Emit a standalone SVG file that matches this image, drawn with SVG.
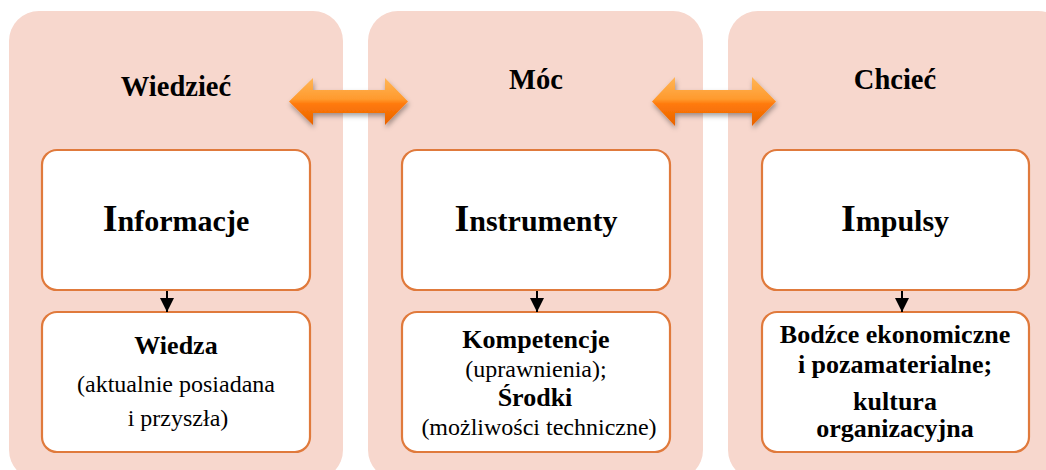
<svg xmlns="http://www.w3.org/2000/svg" width="1046" height="470" viewBox="0 0 1046 470">
<style>
.panel{fill:#F7D7CD;}
.box{fill:#FFFFFF;stroke:#E07A3C;stroke-width:2.2;}
text{font-family:'Times New Roman','Liberation Serif',Tinos,serif;fill:#000;text-anchor:middle;}
.title{font-size:28.5px;font-weight:bold;}
.big{font-size:30px;font-weight:bold;}
.bigI{font-size:38px;}
.lb{font-size:26px;font-weight:bold;}
.lr{font-size:24px;}
.conn{stroke:#000;stroke-width:2;fill:none;}
.dbl{fill:url(#og);filter:url(#sh);}
</style>
<defs>
<linearGradient id="og" x1="0" y1="0" x2="0" y2="1">
<stop offset="0" stop-color="#FFB657"/>
<stop offset="0.45" stop-color="#FF9A2E"/>
<stop offset="0.55" stop-color="#FF7A0A"/>
<stop offset="1" stop-color="#E86200"/>
</linearGradient>
<filter id="sh" x="-20%" y="-40%" width="140%" height="190%">
<feDropShadow dx="1" dy="3" stdDeviation="2.5" flood-color="#000" flood-opacity="0.35"/>
</filter>
<marker id="ah" viewBox="0 0 10 10" refX="10" refY="5" markerWidth="15" markerHeight="14" markerUnits="userSpaceOnUse" orient="auto">
<path d="M0,0 L10,5 L0,10 Z" fill="#000"/>
</marker>
</defs>

<g id="panel-wiedziec">
<rect class="panel" x="9" y="11" width="334" height="469" rx="30"/>
<text class="title" x="176" y="96">Wiedzieć</text>
</g>
<g id="panel-moc">
<rect class="panel" x="368" y="11" width="335" height="469" rx="30"/>
<text class="title" x="536" y="89">Móc</text>
</g>
<g id="panel-chciec">
<rect class="panel" x="728" y="11" width="340" height="469" rx="30"/>
<text class="title" x="895" y="89">Chcieć</text>
</g>

<g id="node-informacje">
<rect class="box" x="42" y="150" width="268" height="140" rx="15"/>
<text class="big" x="176" y="231"><tspan class="bigI">I</tspan>nformacje</text>
</g>
<g id="node-instrumenty">
<rect class="box" x="402" y="150" width="268" height="140" rx="15"/>
<text class="big" x="536" y="231"><tspan class="bigI">I</tspan>nstrumenty</text>
</g>
<g id="node-impulsy">
<rect class="box" x="762" y="150" width="267" height="140" rx="15"/>
<text class="big" x="895" y="231"><tspan class="bigI">I</tspan>mpulsy</text>
</g>

<g id="node-wiedza">
<rect class="box" x="42" y="312" width="268" height="140" rx="15"/>
<text class="lb" x="176" y="354">Wiedza</text>
<text class="lr" x="176" y="392">(aktualnie posiadana</text>
<text class="lr" x="178" y="426">i przyszła)</text>
</g>
<g id="node-kompetencje">
<rect class="box" x="402" y="312" width="268" height="140" rx="15"/>
<text class="lb" x="536" y="348">Kompetencje</text>
<text class="lr" x="536" y="377">(uprawnienia);</text>
<text class="lb" x="535" y="406">Środki</text>
<text class="lr" x="539" y="435">(możliwości techniczne)</text>
</g>
<g id="node-bodzce">
<rect class="box" x="762" y="312" width="267" height="140" rx="15"/>
<text class="lb" x="895" y="343">Bodźce ekonomiczne</text>
<text class="lb" x="895" y="373">i pozamaterialne;</text>
<text class="lb" x="895" y="410">kultura</text>
<text class="lb" x="895" y="437">organizacyjna</text>
</g>

<g id="connectors">
<path class="conn" d="M167,291 L167,312" marker-end="url(#ah)"/>
<path class="conn" d="M537,291 L537,312" marker-end="url(#ah)"/>
<path class="conn" d="M902,291 L902,312" marker-end="url(#ah)"/>
<path class="dbl" d="M289,101.5 L313,78 L313,90 L385,90 L385,78 L408,101.5 L385,125 L385,113 L313,113 L313,125 Z"/>
<path class="dbl" d="M652,101.5 L675,77 L675,90 L752,90 L752,77 L776,101.5 L752,126 L752,113 L675,113 L675,126 Z"/>
</g>
</svg>
